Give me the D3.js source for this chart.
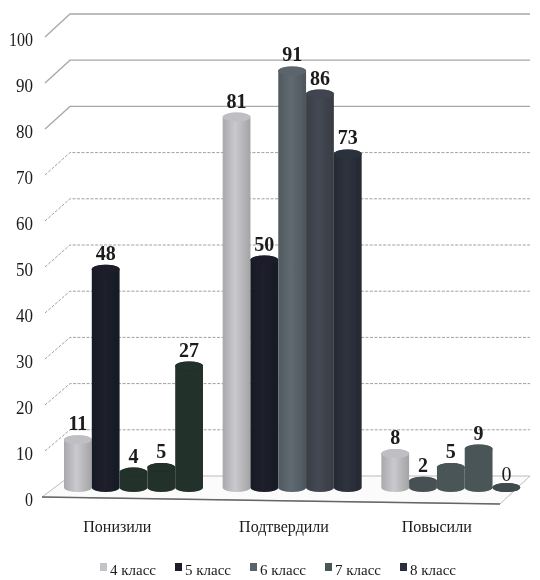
<!DOCTYPE html>
<html><head><meta charset="utf-8"><style>html,body{margin:0;background:#fff}svg{display:block}text{font-family:"Liberation Serif",serif;fill:#1a1a1a}</style>
<script src="https://cdn.jsdelivr.net/npm/d3@7/dist/d3.min.js"></script></head><body><div id="c"></div>
<script>
const categories=["Понизили","Подтвердили","Повысили"];
const seriesNames=["4 класс","5 класс","6 класс","7 класс","8 класс"];
const values4=[11,81,8];
const values5=[48,50,2];
const values6=[4,91,5];
const values7=[5,86,9];
const values8=[27,73,0];
const allValues=[values4,values5,values6,values7,values8];
const colorsG1=["#bcbcc0","#1b1e29","#20302c","#20302c","#20302c"];
const colorsG2=["#bcbcc0","#1b1e29","#59636a","#3f444e","#2b2f3a"];
const colorsG3=["#bcbcc0","#465153","#4a5557","#4a5557","#3f4a4c"];
const groupColors=[colorsG1,colorsG2,colorsG3];
const flatColors=["#20302c","#465153","#4a5557","#3f4a4c"];
const legendColors=["#c4c4c8","#1b1e29","#59636a","#4a5557","#2b2f3a"];
const ticks=d3.range(0,101,10);

const W=540,H=580;
const svg=d3.select("#c").append("svg").attr("width",W).attr("height",H);
const defs=svg.append("defs");
defs.append("filter").attr("id","soft").attr("x","-5%").attr("y","-5%").attr("width","110%").attr("height","110%")
  .append("feGaussianBlur").attr("stdDeviation",0.5);
const g=svg.append("g").attr("filter","url(#soft)");

const yFront=d3.scaleLinear().domain([0,100]).range([497,37]);
const yBack=d3.scaleLinear().domain([0,100]).range([476,14]);
const yBar=d3.scaleLinear().domain([0,100]).range([486,25]);
const yLabel=d3.scaleLinear().domain([0,100]).range([506,46]);
const x0=d3.scaleBand().domain(categories).range([55,531]);
const x1=d3.scaleBand().domain(seriesNames).range([9,148]);
const xBackL=70,xBackR=530,xFrontL=45;

g.append("g").selectAll("path").data(ticks.filter(t=>t>0)).join("path")
  .attr("fill","none").attr("stroke",d=>d>=80?"#a8a8a8":"#a0a0a0")
  .attr("stroke-width",d=>d>=80?1.3:1)
  .attr("stroke-dasharray",d=>d>=80?null:"3 1.5")
  .attr("d",d=>`M${xFrontL},${yFront(d)}L${xBackL},${yBack(d)}L${xBackR},${yBack(d)}`);
g.append("path").attr("fill","#fbfbfb").attr("stroke","#bbb").attr("stroke-width",1)
  .attr("d",`M42,${yFront(0)}L${xBackL},${yBack(0)}L${xBackR},${yBack(0)}L500,504Z`);
g.append("path").attr("fill","none").attr("stroke","#666").attr("stroke-width",1.5)
  .attr("d",`M42,${yFront(0)}L500,504`);
g.append("g").selectAll("text").data(ticks).join("text")
  .attr("x",33).attr("y",d=>yLabel(d)).attr("text-anchor","end").attr("font-size",19)
  .attr("textLength",d=>d===100?24:d===0?8:17).attr("lengthAdjust","spacingAndGlyphs").text(d=>d);

const uniq=[...new Set(groupColors.flat())].filter(c=>!flatColors.includes(c));
const gid=c=>"g"+c.slice(1);
uniq.forEach(c=>{
  const lg=defs.append("linearGradient").attr("id",gid(c));
  const col=d3.color(c);
  [[0,col.darker(0.3)],[0.45,col.brighter(0.2)],[1,col.darker(0.4)]].forEach(([o,k])=>
    lg.append("stop").attr("offset",o).attr("stop-color",k));
});
const fillOf=c=>flatColors.includes(c)?c:`url(#${gid(c)})`;
const ry=4.5;
const baseC=yBar(0)+1.5;
const topC=v=>Math.min(yBar(v)+ry,baseC);
const rows=[];
categories.forEach((cat,i)=>seriesNames.forEach((s,j)=>rows.push({cat,s,v:allValues[j][i],color:groupColors[i][j]})));
const bars=g.append("g").selectAll("g").data(rows).join("g")
  .attr("transform",d=>`translate(${x0(d.cat)+x1(d.s)},0)`);
const bw=x1.bandwidth();
bars.append("path").attr("fill",d=>fillOf(d.color))
  .attr("d",d=>{const t=topC(d.v),b=baseC;
    return `M0,${t}A${bw/2},${ry} 0 0 1 ${bw},${t}L${bw},${b}A${bw/2},${ry} 0 0 1 0,${b}Z`;});
bars.append("ellipse").attr("cx",bw/2).attr("cy",d=>topC(d.v)).attr("rx",bw/2).attr("ry",ry)
  .attr("fill",d=>flatColors.includes(d.color)?d.color:d3.color(d.color).brighter(0.05));
bars.append("text").attr("x",bw/2).attr("y",d=>yBar(d.v)-5).attr("text-anchor","middle")
  .attr("font-size",20).attr("font-weight",d=>d.v>=1?"bold":"normal")
  .attr("fill",d=>d.v===0?"#555":"#1a1a1a").text(d=>d.v);
const catOffset=[-17,-9,-15];
g.append("g").selectAll("text").data(categories).join("text")
  .attr("x",(d,i)=>x0(d)+x0.bandwidth()/2+catOffset[i]).attr("y",532).attr("text-anchor","middle")
  .attr("font-size",16).text(d=>d);
const legendX=d3.scalePoint().domain(seriesNames).range([100,400]);
const leg=g.append("g").selectAll("g").data(seriesNames).join("g")
  .attr("transform",d=>`translate(${legendX(d)},0)`);
leg.append("rect").attr("y",563).attr("width",7).attr("height",8).attr("fill",(d,i)=>legendColors[i]);
leg.append("text").attr("x",10).attr("y",575).attr("font-size",15).text(d=>d);
</script></body></html>
